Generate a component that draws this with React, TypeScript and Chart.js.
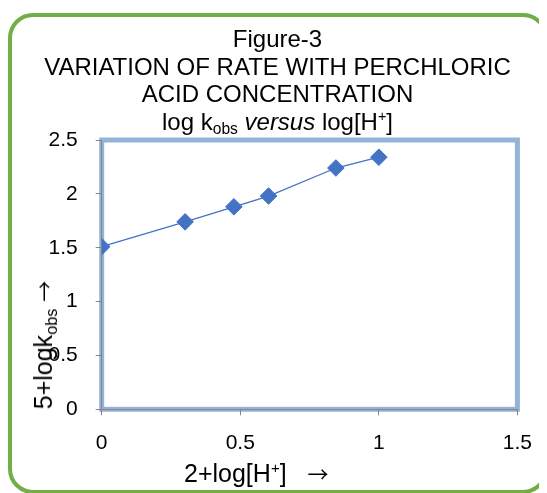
import React, { useEffect, useRef } from "react";
import { Chart, registerables } from "chart.js";

Chart.register(...registerables);

const xValues = [0, 0.301, 0.477, 0.602, 0.845, 1.0];
const yValues = [1.51, 1.74, 1.88, 1.98, 2.24, 2.34];
const xTicks = [0, 0.5, 1, 1.5];
const yTicks = [0, 0.5, 1, 1.5, 2, 2.5];
const titleLines = ["Figure-3", "VARIATION OF RATE WITH PERCHLORIC", "ACID CONCENTRATION"];

const FONT = "'Liberation Sans', Arial, sans-serif";

const plotBorder = {
  id: "plotBorder",
  beforeDraw(chart: any) {
    const { ctx, chartArea } = chart;
    ctx.save();
    ctx.strokeStyle = "rgb(149,179,215)";
    ctx.lineWidth = 5;
    ctx.strokeRect(chartArea.left, chartArea.top, chartArea.right - chartArea.left, chartArea.bottom - chartArea.top);
    ctx.restore();
  },
};

export default function App() {
  const ref = useRef<HTMLCanvasElement | null>(null);
  useEffect(() => {
    if (!ref.current) return;
    const chart = new Chart(ref.current, {
      type: "scatter",
      data: {
        datasets: [
          {
            data: xValues.map((x, i) => ({ x, y: yValues[i] })),
            showLine: true,
            borderColor: "#4472c4",
            borderWidth: 1.3,
            backgroundColor: "#4472c4",
            pointBackgroundColor: "#4472c4",
            pointBorderColor: "#4472c4",
            pointStyle: "rectRot",
            pointRadius: 8.3,
            pointBorderWidth: 1,
            tension: 0,
          },
        ],
      },
      options: {
        animation: false,
        responsive: false,
        devicePixelRatio: 1,
        layout: { padding: { left: 0, right: 27.5, top: 132, bottom: 43.7 } },
        plugins: { legend: { display: false }, title: { display: false }, tooltip: { enabled: false } },
        scales: {
          x: {
            type: "linear",
            min: 0,
            max: 1.5,
            afterFit: (s: any) => { s.height = 40; },
            afterBuildTicks: (s: any) => { s.ticks = xTicks.map((v) => ({ value: v })); },
            grid: { drawOnChartArea: false, drawTicks: true, tickLength: 6, color: "#868686" },
            border: { display: true, color: "#868686", width: 1 },
            ticks: { color: "#000", font: { family: FONT, size: 21 }, padding: 15, callback: (v: any) => String(v) },
          },
          y: {
            type: "linear",
            min: 0,
            max: 2.5,
            afterFit: (s: any) => { s.width = 93.7; },
            afterBuildTicks: (s: any) => { s.ticks = yTicks.map((v) => ({ value: v })); },
            grid: { drawOnChartArea: false, drawTicks: true, tickLength: 6, color: "#868686" },
            border: { display: true, color: "#868686", width: 1 },
            ticks: { color: "#000", font: { family: FONT, size: 21 }, padding: 18, callback: (v: any) => String(v) },
          },
        },
      },
      plugins: [plotBorder],
    });
    return () => chart.destroy();
  }, []);

  const textBase: React.CSSProperties = {
    position: "absolute",
    fontFamily: FONT,
    fontSize: 24,
    lineHeight: "24px",
    color: "#000",
    whiteSpace: "pre",
  };
  const axisText: React.CSSProperties = { ...textBase, fontSize: 25, lineHeight: "25px" };
  const arrow: React.CSSProperties = { fontFamily: "'Noto Sans CJK SC', sans-serif", fontSize: 21, lineHeight: "25px" };
  const titleBaselines = [39, 67, 94.5, 122];

  return (
    <div style={{ position: "relative", width: 539, height: 485, overflow: "hidden" }}>
      <style>{"html,body{overflow:hidden}"}</style>
      <div
        style={{
          position: "absolute",
          left: 0,
          top: 4.5,
          width: 540,
          height: 481.5,
          boxSizing: "border-box",
          border: "4.3px solid #72ae48",
          borderRadius: 25,
        }}
      />
      <canvas ref={ref} width={539} height={485} style={{ position: "absolute", left: 0, top: 0 }} />
      {titleLines.map((t, i) => (
        <div key={i} style={{ ...textBase, left: 0, width: 539, textAlign: "center", top: titleBaselines[i] - 20.3 }}>
          {t}
        </div>
      ))}
      <div style={{ ...textBase, left: 0, width: 539, textAlign: "center", top: titleBaselines[3] - 20.3 }}>
        log k<span style={{ fontSize: "0.65em", position: "relative", top: "0.3em" }}>obs</span>{" "}
        <i>versus</i> log[H<span style={{ fontSize: "0.6em", position: "relative", top: "-0.6em" }}>+</span>]
      </div>
      <div style={{ ...axisText, left: 176, top: 473.7 - 21.1 }}>
        2+log[H<span style={{ fontSize: "0.6em", position: "relative", top: "-0.6em" }}>+</span>]   <span style={arrow}>→</span>
      </div>
      <div
        style={{
          ...axisText,
          left: 36.5,
          top: 337,
          transform: "translate(-50%, -50%) rotate(-90deg)",
        }}
      >
        5+logk<span style={{ fontSize: "0.65em", position: "relative", top: "0.3em" }}>obs</span> <span style={arrow}>→</span>
      </div>
    </div>
  );
}
